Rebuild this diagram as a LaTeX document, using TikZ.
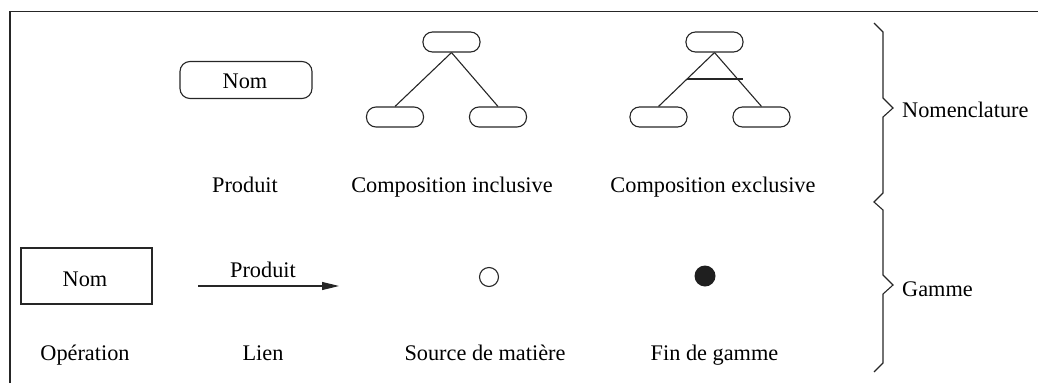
\documentclass[tikz,border=0pt]{standalone}
\usepackage{fontspec}
\setmainfont{Liberation Serif}
\usetikzlibrary{arrows.meta}
\begin{document}
\begin{tikzpicture}[x=1pt,y=-1pt,
  every node/.style={font=\fontsize{22.3}{25}\selectfont, inner sep=0pt},
  ln/.style={line width=1.1pt, draw=black!85},
  prodbox/.style={ln, draw, rounded corners=10pt, minimum width=132pt, minimum height=37pt},
  smallbox/.style={ln, draw, rounded corners=9.5pt, minimum width=57pt, minimum height=20pt},
  opbox/.style={ln, draw, minimum width=131pt, minimum height=56pt},
  lbl/.style={anchor=base}]
\useasboundingbox (0,0) rectangle (1038,383);
% frame
\draw[ln] (10,383) -- (10,11.5) -- (1038,11.5);
% Nomenclature row
\node[prodbox] (prod) at (246,80) {};
\node[lbl] (prodtxt) at (245,88) {Nom};
\node[lbl] (prodlbl) at (245,192) {Produit};
% inclusive
\node[smallbox] (it) at (451.5,42) {};
\node[smallbox] (il) at (395,117) {};
\node[smallbox] (ir) at (498,117) {};
\draw[ln] (it.south) -- (il.north);
\draw[ln] (it.south) -- (ir.north);
\node[lbl] (incl) at (452,192) {Composition inclusive};
% exclusive
\node[smallbox] (et) at (714.5,42) {};
\node[smallbox] (el) at (658.5,117) {};
\node[smallbox] (er) at (761.5,117) {};
\draw[ln] (et.south) -- (el.north);
\draw[ln] (et.south) -- (er.north);
\coordinate (barl) at (687,79);
\coordinate (barr) at (743,79);
\draw[ln] (barl) -- (barr);
\node[lbl] (excl) at (713,192) {Composition exclusive};
% Gamme row
\node[opbox] (op) at (86.5,276) {};
\node[lbl] (optxt) at (85,286) {Nom};
\node[lbl] (oplbl) at (85,360) {Opération};
\coordinate (a1) at (198,286);
\coordinate (a2) at (339,286);
\draw[ln, -{Triangle[length=17pt,width=8pt]}] (a1) -- (a2);
\node[lbl] (arrlbl) at (263,277) {Produit};
\node[lbl] (lienlbl) at (263,360) {Lien};
\node[ln, draw, circle, minimum size=19pt] (src) at (489,277) {};
\node[lbl] (srclbl) at (485,360) {Source de matière};
\node[circle, fill=black!88, minimum size=21pt] (fin) at (705,276) {};
\node[lbl] (finlbl) at (714.5,360) {Fin de gamme};
% braces
\draw[ln, line join=miter] (874,23) -- (883,32) -- (883,98) -- (893,108) -- (883,117) -- (883,193) -- (874,202) -- (883,210) -- (883,275) -- (893,285) -- (883,294) -- (883,363) -- (874,372);
\node[anchor=base west] (nomen) at (902,117) {Nomenclature};
\node[anchor=base west] (gamme) at (902,296) {Gamme};
\end{tikzpicture}
\end{document}
